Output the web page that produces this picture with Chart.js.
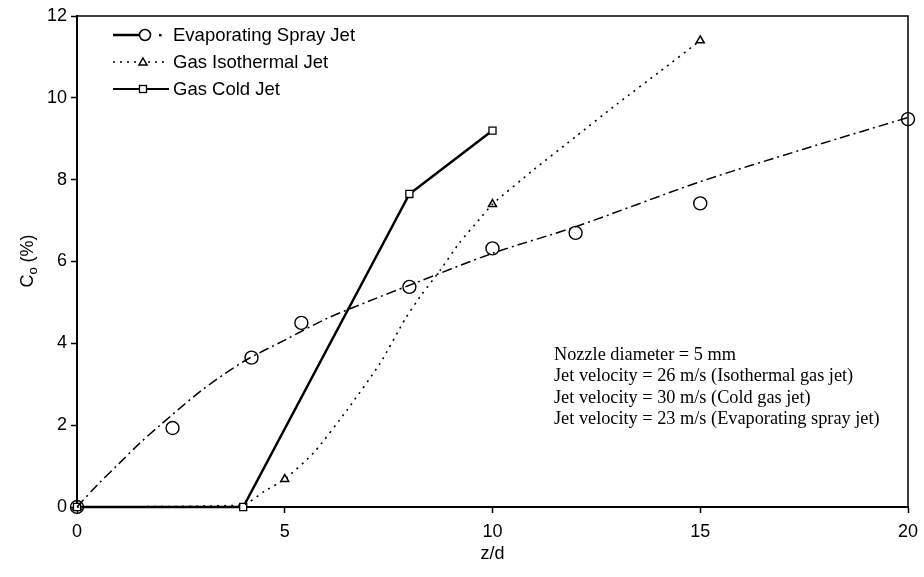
<!DOCTYPE html>
<html>
<head>
<meta charset="utf-8">
<script src="https://cdn.jsdelivr.net/npm/chart.js@4/dist/chart.umd.min.js"></script>
<style>
  html, body { margin: 0; padding: 0; background: #fff; }
  #wrap { width: 924px; height: 577px; }
</style>
</head>
<body>
<div id="wrap"><canvas id="chart" width="924" height="577"></canvas></div>
<script>
// measured points
const sprayZ = [0, 2.3, 4.2, 5.4, 8, 10, 12, 15, 20];
const sprayCo = [0, 1.93, 3.65, 4.5, 5.38, 6.32, 6.7, 7.42, 9.48];
// dash-dot fit curve
const sprayFitZ = [0, 0.5, 1, 1.5, 2, 3, 4, 5, 6, 7, 8, 10, 12, 15, 17.5, 20];
const sprayFitCo = [0, 0.55, 1.05, 1.55, 2.0, 2.85, 3.55, 4.08, 4.6, 5.02, 5.42, 6.2, 6.85, 7.95, 8.75, 9.52];

const isoZ = [0, 5, 10, 15];
const isoCo = [0, 0.68, 7.4, 11.4];
// dotted curve
const isoFitZ = [0, 4, 4.5, 5, 5.7, 6.5, 7.3, 7.9, 8.3, 8.75, 9.2, 9.7, 10, 11, 12, 13, 14, 15];
const isoFitCo = [0, 0.05, 0.38, 0.68, 1.33, 2.37, 3.52, 4.6, 5.2, 5.8, 6.45, 7.05, 7.4, 8.25, 9.05, 9.85, 10.62, 11.4];

const coldZ = [0, 4, 8, 10];
const coldCo = [0, 0, 7.65, 9.2];

const xTicks = [0, 5, 10, 15, 20];
const yTicks = [0, 2, 4, 6, 8, 10, 12];

const legendLabels = ['Evaporating Spray Jet', 'Gas Isothermal Jet', 'Gas Cold Jet'];
const noteLines = [
  'Nozzle diameter = 5 mm',
  'Jet velocity = 26 m/s (Isothermal gas jet)',
  'Jet velocity = 30 m/s (Cold gas jet)',
  'Jet velocity = 23 m/s (Evaporating spray jet)'
];

const pts = (xs, ys) => xs.map((x, i) => ({ x: x, y: ys[i] }));
const SANS = '"Liberation Sans", Arial, sans-serif';
const SERIF = '"Liberation Serif", "Times New Roman", serif';

const extras = {
  id: 'extras',
  afterDraw(chart) {
    const ctx = chart.ctx;
    const a = chart.chartArea;
    ctx.save();
    // top and right frame
    ctx.strokeStyle = '#000';
    ctx.lineWidth = 1.5;
    ctx.beginPath();
    ctx.moveTo(a.left, a.top);
    ctx.lineTo(a.right, a.top);
    ctx.lineTo(a.right, a.bottom);
    ctx.stroke();

    // legend
    ctx.fillStyle = '#000';
    ctx.font = '18.5px ' + SANS;
    ctx.textBaseline = 'middle';
    const rows = [35, 62, 89];
    // spray
    ctx.lineWidth = 2.5;
    ctx.setLineDash([]);
    ctx.beginPath(); ctx.moveTo(113, rows[0]); ctx.lineTo(139, rows[0]); ctx.stroke();
    ctx.lineWidth = 1.5;
    ctx.fillStyle = '#fff';
    ctx.beginPath(); ctx.arc(145, rows[0], 5.5, 0, Math.PI * 2); ctx.fill(); ctx.stroke();
    ctx.fillStyle = '#000';
    ctx.fillRect(159, rows[0] - 1, 2.5, 2.5);
    // iso
    ctx.lineWidth = 1.5;
    ctx.setLineDash([2, 5]);
    ctx.beginPath(); ctx.moveTo(113, rows[1]); ctx.lineTo(169, rows[1]); ctx.stroke();
    ctx.setLineDash([]);
    ctx.fillStyle = '#fff';
    ctx.beginPath();
    ctx.moveTo(143, rows[1] - 4); ctx.lineTo(147, rows[1] + 3); ctx.lineTo(139, rows[1] + 3); ctx.closePath();
    ctx.fill(); ctx.stroke();
    // cold
    ctx.lineWidth = 2;
    ctx.beginPath(); ctx.moveTo(113, rows[2]); ctx.lineTo(169, rows[2]); ctx.stroke();
    ctx.lineWidth = 1.3;
    ctx.fillRect(139.5, rows[2] - 3.5, 7, 7);
    ctx.strokeRect(139.5, rows[2] - 3.5, 7, 7);
    ctx.fillStyle = '#000';
    ctx.textAlign = 'left';
    legendLabels.forEach((t, i) => ctx.fillText(t, 173, rows[i] + 1));

    // note
    ctx.font = '18.3px ' + SERIF;
    noteLines.forEach((t, i) => ctx.fillText(t, 554, 355 + i * 21.5));

    // axis titles
    ctx.font = '18px ' + SANS;
    ctx.textAlign = 'center';
    ctx.fillText('z/d', (a.left + a.right) / 2, 554);
    ctx.translate(28, 261);
    ctx.rotate(-Math.PI / 2);
    ctx.textAlign = 'left';
    const w1 = ctx.measureText('C').width;
    ctx.font = '13px ' + SANS;
    const w2 = ctx.measureText('o').width;
    ctx.font = '18px ' + SANS;
    const w3 = ctx.measureText(' (%)').width;
    let x0 = -(w1 + w2 + w3) / 2;
    ctx.fillText('C', x0, 0);
    ctx.font = '13px ' + SANS;
    ctx.fillText('o', x0 + w1, 5);
    ctx.font = '18px ' + SANS;
    ctx.fillText(' (%)', x0 + w1 + w2, 0);
    ctx.restore();
  }
};

new Chart(document.getElementById('chart'), {
  type: 'scatter',
  data: {
    datasets: [
      {
        data: pts(sprayFitZ, sprayFitCo), showLine: true, tension: 0.3,
        borderColor: '#000', borderWidth: 1.5, borderDash: [10, 4, 2, 4],
        pointRadius: 0, clip: false
      },
      {
        data: pts(isoFitZ, isoFitCo), showLine: true, tension: 0.2,
        borderColor: '#000', borderWidth: 1.6, borderDash: [2, 5],
        pointRadius: 0, clip: false
      },
      {
        data: pts(coldZ, coldCo), showLine: true, tension: 0,
        borderColor: '#000', borderWidth: 2.5,
        pointStyle: 'rect', pointRadius: 5, pointBorderWidth: 1.3,
        pointBackgroundColor: '#fff', pointBorderColor: '#000', clip: false
      },
      {
        data: pts(isoZ, isoCo), showLine: false,
        pointStyle: 'triangle', pointRadius: 4.6, pointBorderWidth: 1.5,
        pointBackgroundColor: '#fff', pointBorderColor: '#000', clip: false
      },
      {
        data: pts(sprayZ, sprayCo), showLine: false,
        pointStyle: 'circle', pointRadius: 6.5, pointBorderWidth: 1.4,
        pointBackgroundColor: 'rgba(0,0,0,0)', pointBorderColor: '#000', clip: false
      }
    ]
  },
  options: {
    responsive: false,
    animation: false,
    events: [],
    layout: { padding: { top: 16, right: 16, left: 0, bottom: 0 } },
    plugins: { legend: { display: false }, tooltip: { enabled: false } },
    scales: {
      x: {
        type: 'linear', min: 0, max: 20,
        afterFit: (s) => { s.height = 70; s.paddingLeft = 0; s.paddingRight = 0; },
        afterBuildTicks: (s) => { s.ticks = xTicks.map(v => ({ value: v })); },
        ticks: { color: '#000', font: { family: SANS, size: 18 }, padding: 8, maxRotation: 0 },
        grid: { drawOnChartArea: false, tickLength: 6, tickColor: '#000', tickWidth: 1.5 },
        border: { color: '#000', width: 2 }
      },
      y: {
        type: 'linear', min: 0, max: 12,
        afterFit: (s) => { s.width = 77; s.paddingTop = 0; s.paddingBottom = 0; },
        afterBuildTicks: (s) => { s.ticks = yTicks.map(v => ({ value: v })); },
        ticks: { color: '#000', font: { family: SANS, size: 18 }, padding: 4 },
        grid: { drawOnChartArea: false, tickLength: 6, tickColor: '#000', tickWidth: 1.5 },
        border: { color: '#000', width: 2 }
      }
    }
  },
  plugins: [extras]
});
</script>
</body>
</html>
